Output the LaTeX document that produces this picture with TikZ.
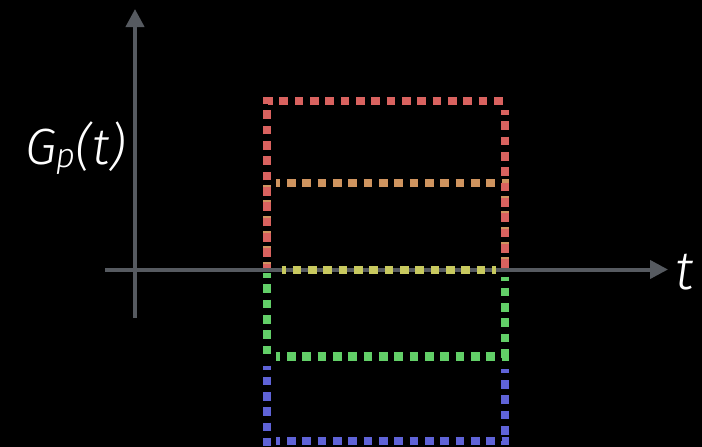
\documentclass[tikz,border=0pt]{standalone}
\usepackage{fontspec}
\usetikzlibrary{arrows.meta}
\newfontfamily\lightsans{Fira Sans}[UprightFont=* Light, ItalicFont=* Light Italic]
\definecolor{axisgray}{RGB}{86,90,96}
\definecolor{boxred}{RGB}{217,98,95}
\definecolor{boxorange}{RGB}{207,148,95}
\definecolor{boxyellow}{RGB}{200,201,95}
\definecolor{boxgreen}{RGB}{98,207,104}
\definecolor{boxblue}{RGB}{95,99,215}
\begin{document}
\begin{tikzpicture}[x=1pt,y=-1pt,
  axis/.style={draw=axisgray,line width=4pt,-{Triangle[length=18pt,width=18pt]}},
  dotline/.style={line width=8.6pt,dash pattern=on 8.6pt off 6.73pt,dash phase=4.3pt},
  axislabel/.style={text=white,inner sep=0pt}]
% canvas
\fill[black] (0,0) rectangle (702,447);
\useasboundingbox (0,0) rectangle (702,447);
% axes
\coordinate (ybot) at (135,318);
\coordinate (ytop) at (135,9);
\coordinate (xleft) at (105,269.5);
\coordinate (xright) at (668,269.5);
\draw[axis] (ybot) -- (ytop);
\draw[axis] (xleft) -- (xright);
\node[axislabel,font=\lightsans\itshape\fontsize{51}{60}\selectfont,anchor=base west] (glabel) at (25,164)
  {G\kern-1pt\raisebox{-0.06em}{\fontsize{34}{40}\selectfont p}\kern1pt(t)};
\node[axislabel,font=\lightsans\itshape\fontsize{54}{60}\selectfont,anchor=base west] (tlabel) at (675,289) {t};
% blue box
\draw[dotline,boxblue] (267,365.7) -- (267,446);
\draw[dotline,boxblue] (276,441) -- (509,441);
\draw[dotline,boxblue] (505,369) -- (505,445);
% green box
\draw[dotline,boxgreen] (267,273.3) -- (267,356);
\draw[dotline,boxgreen] (276,356.7) -- (509,356.7);
\draw[dotline,boxgreen] (505,276.7) -- (505,360);
% orange box
\draw[dotline,boxorange] (267,266) -- (267,185);
\draw[dotline,boxorange] (505,261.6) -- (505,185);
\draw[dotline,boxorange] (276,183) -- (509,183);
% red box
\draw[dotline,boxred] (267,268) -- (267,97);
\draw[dotline,boxred] (268.4,101) -- (509,101);
\draw[dotline,boxred] (505,110.3) -- (505,268);
% yellow line on the time axis
\draw[dotline,boxyellow] (281.7,270) -- (496,270);
\end{tikzpicture}
\end{document}
